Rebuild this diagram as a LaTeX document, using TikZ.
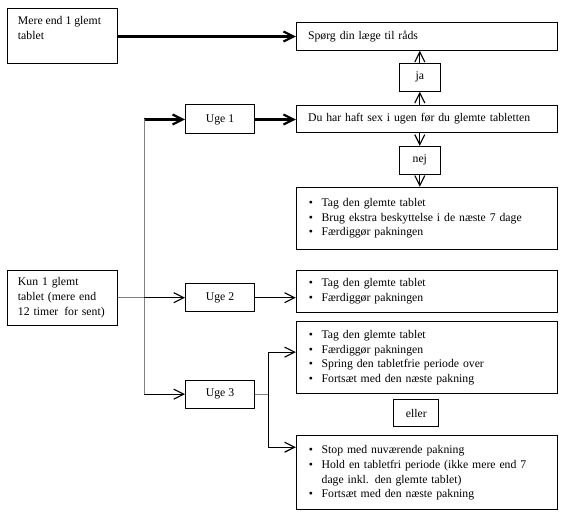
\documentclass[tikz,border=0pt]{standalone}
\usepackage{fontspec}
\setmainfont{Liberation Serif}
\usetikzlibrary{arrows.meta}

% bullet and hanging indent for the lists
\newcommand{\pkt}{\makebox[9.5pt][l]{\textbullet}}
\newcommand{\pktind}{\hspace*{9.5pt}}

\begin{document}
\begin{tikzpicture}
    [x=0.75pt, y=-0.75pt,
    every node/.style={font=\fontsize{8.8}{11}\selectfont},
    box/.style={draw, line width=0.75pt, inner ysep=0pt},
    text box/.style={box, align=left, inner xsep=8.8pt, text width=#1},
    list box/.style={box, align=left, inner xsep=9.5pt, text width=176.75pt},
    small box/.style={box, align=center, inner xsep=0pt},
    main arrow/.style={-{Straight Barb[length=7.5pt,width=7.5pt]}, line width=1.6pt},
    flow arrow/.style={-{Straight Barb[length=7.5pt,width=7.5pt]}, line width=0.85pt},
    grey line/.style={gray, line width=0.85pt}]

    \useasboundingbox (0,0) rectangle (579,520);

    \coordinate (trunk) at (144.3,0);
    \coordinate (fork) at (268.3,0);

    % drawing the start boxes
    \node[box, inner xsep=8pt, inner ysep=6.3pt] (mere) at (62.3,35.8)
        {\parbox[c][28.6pt][t]{66.5pt}{Mere end 1 glemt\\tablet}};
    \node[text box=66.5pt, inner xsep=8pt, minimum height=41.5pt] (kun) at (62.3,297.7)
        {Kun 1 glemt\\tablet (mere end\\12 timer\hspace{1.5pt} for sent)};

    % drawing the weeks
    \node[small box, minimum width=51.75pt, minimum height=21.75pt] (uge1) at (220,119.5) {Uge 1};
    \node[small box, minimum width=51.75pt, minimum height=21pt] (uge2) at (220,297.7) {Uge 2};
    \node[small box, minimum width=51.75pt, minimum height=21.25pt] (uge3) at (220,394.2) {Uge 3};

    % drawing the week 1 question
    \node[text box=178.15pt, minimum height=20.7pt] (spoerg) at (426.8,36.5) {Spørg din læge til råds};
    \node[small box, minimum width=30.75pt, minimum height=21pt] (ja) at (419.8,77.3) {ja};
    \node[text box=178.15pt, minimum height=20pt] (duhar) at (426.8,119)
        {Du har haft sex i ugen før du glemte tabletten};
    \node[small box, minimum width=30.75pt, minimum height=20.75pt] (nej) at (419.8,160.2) {nej};

    % drawing the lists
    \node[list box, minimum height=46.5pt] (box1) at (426.8,218.3)
        {\pkt Tag den glemte tablet\\\pkt Brug ekstra beskyttelse i de næste 7 dage\\\pkt Færdiggør pakningen};
    \node[list box, minimum height=31.5pt] (box2) at (426.8,291.3)
        {\pkt Tag den glemte tablet\\\pkt Færdiggør pakningen};
    \node[list box, minimum height=54.25pt] (box3) at (426.8,357.8)
        {\pkt Tag den glemte tablet\\\pkt Færdiggør pakningen\\\pkt Spring den tabletfrie periode over\\\pkt Fortsæt med den næste pakning};
    \node[small box, minimum width=34pt, minimum height=20.5pt] (eller) at (416.3,413) {eller};
    \node[list box, minimum height=55.5pt] (box4) at (426.8,473)
        {\pkt Stop med nuværende pakning\\\pkt Hold en tabletfri periode (ikke mere end 7\\\pktind dage inkl. den glemte tablet)\\\pkt Fortsæt med den næste pakning};

    % drawing the top arrows
    \draw[main arrow] (mere.east |- spoerg.west) -- (spoerg.west);
    \draw[main arrow] (uge1.west -| trunk) -- (uge1.west);
    \draw[main arrow] (uge1.east) -- (uge1.east -| duhar.west);
    \draw[flow arrow] (ja.south |- duhar.north) -- (ja.south);
    \draw[flow arrow] (ja.north) -- (ja.north |- spoerg.south);
    \draw[flow arrow] (nej.north |- duhar.south) -- (nej.north);
    \draw[flow arrow] (nej.south) -- (nej.south |- box1.north);

    % drawing the trunk and the branches
    \draw[grey line] (uge1.west -| trunk) -- (uge3.west -| trunk);
    \draw[grey line] (kun.east) -- (kun.east -| trunk);
    \draw[flow arrow] (kun.east -| trunk) -- (uge2.west);
    \draw[flow arrow] (uge3.west -| trunk) -- (uge3.west);
    \draw[flow arrow] (uge2.east) -- (uge2.east -| box2.west);
    \draw[grey line] (uge3.east) -- (uge3.east -| fork);
    \draw[flow arrow] (uge3.east -| fork) |- ([yshift=-23.25pt]box3.north west);
    \draw[flow arrow] (uge3.east -| fork) |- ([yshift=-8.8pt]box4.north west);

\end{tikzpicture}
\end{document}
